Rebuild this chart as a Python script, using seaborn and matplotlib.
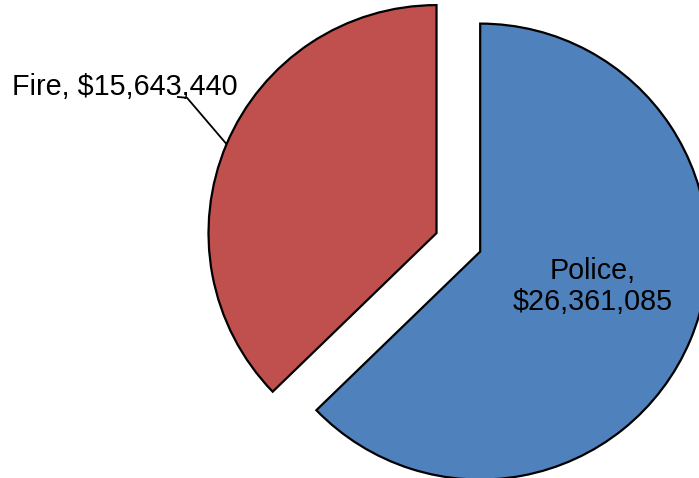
import numpy as np
import matplotlib
matplotlib.use("Agg")
import matplotlib.pyplot as plt
import seaborn as sns

# Public safety budget split
departments = ["Police", "Fire"]
amounts = [26361085, 15643440]
colors = ["#4F81BD", "#C0504D"]

sns.set_style("white")
plt.rcParams["font.family"] = ["Liberation Sans", "DejaVu Sans"]

fig = plt.figure(figsize=(6.99, 4.78), dpi=100)
ax = fig.add_axes([0, 0, 1, 1])

wedges, _ = ax.pie(
    amounts,
    colors=colors,
    startangle=90,
    counterclock=False,
    explode=[0.104, 0.104],
    radius=1.0,
    wedgeprops=dict(edgecolor="black", linewidth=1.6),
)

ax.set_xlim(-2.0103, 1.0555)
ax.set_ylim(-1.0336, 1.0630)
ax.set_aspect("auto")
ax.axis("off")

fmt = lambda v: "${:,}".format(v)

# Police label inside its slice
ax.text(0.5906, -0.1936, f"{departments[0]},\n{fmt(amounts[0])}",
        ha="center", va="center", fontsize=20.7, color="black",
        linespacing=1.12)

# Fire label outside with a leader line to the slice edge
fire = wedges[1]
mid = np.deg2rad((fire.theta1 + fire.theta2) / 2)
cx, cy = fire.center
edge_pt = (cx + fire.r * np.cos(mid), cy + fire.r * np.sin(mid))
ax.plot([-1.234, -1.190, edge_pt[0]], [0.638, 0.634, edge_pt[1]],
        color="black", lw=1.3, solid_capstyle="butt")
ax.text(-1.958, 0.681, f"{departments[1]}, {fmt(amounts[1])}",
        ha="left", va="center", fontsize=20.7, color="black")

fig.savefig("out.png", dpi=100)
